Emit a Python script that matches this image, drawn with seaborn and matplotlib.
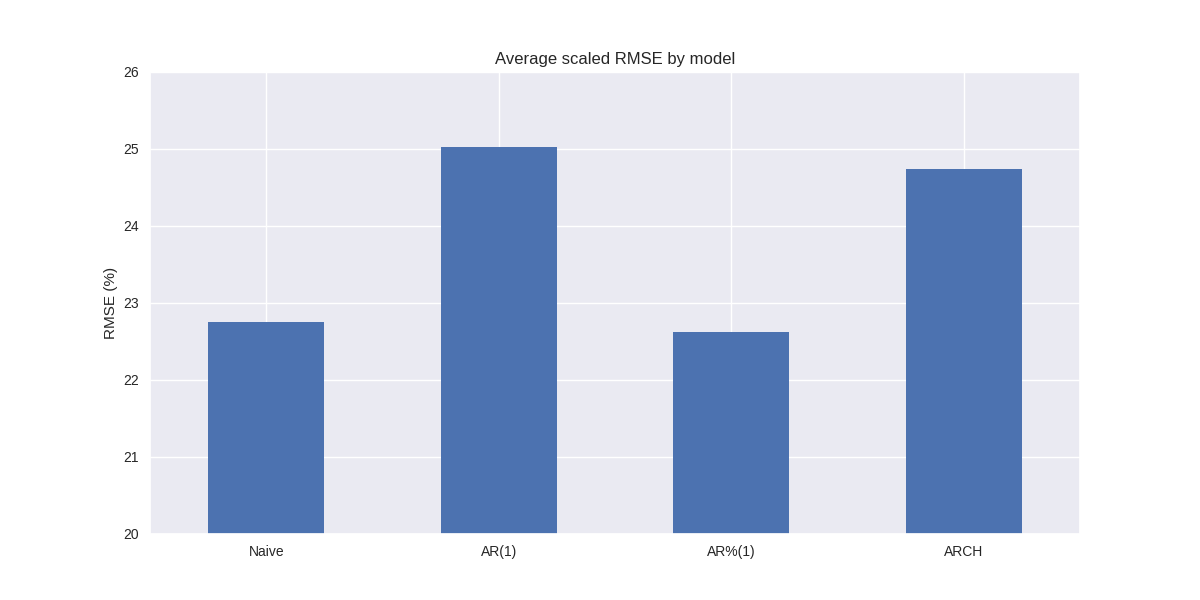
import numpy as np
import pandas as pd
import seaborn as sns
import matplotlib
matplotlib.use("Agg")
import matplotlib.pyplot as plt

models = ["Naive", "AR(1)", "AR%(1)", "ARCH"]
rmse = [22.75, 25.02, 22.62, 24.74]

sns.set_theme(style="darkgrid", rc={
    "axes.labelsize": 11,
    "axes.titlesize": 12,
    "xtick.labelsize": 10,
    "ytick.labelsize": 10,
    "font.size": 10,
})
plt.rcParams["font.family"] = ["Liberation Sans", "DejaVu Sans"]

df = pd.DataFrame({"model": models, "rmse": rmse})

fig, ax = plt.subplots(figsize=(12, 6), dpi=100)
fig.subplots_adjust(left=0.125, right=0.9, top=0.88, bottom=0.11)
sns.barplot(data=df, x="model", y="rmse", color="#4C72B0", width=0.5,
            saturation=1, linewidth=0, ax=ax)
ax.set_ylim(20, 26)
ax.set_xlim(-0.5, 3.5)
ax.xaxis.grid(True)
ax.set_axisbelow(True)
ax.set_xlabel("")
ax.set_ylabel("RMSE (%)")
ax.set_title("Average scaled RMSE by model")
ax.tick_params(axis="both", length=0, pad=8)

fig.savefig("out.png", dpi=100)
